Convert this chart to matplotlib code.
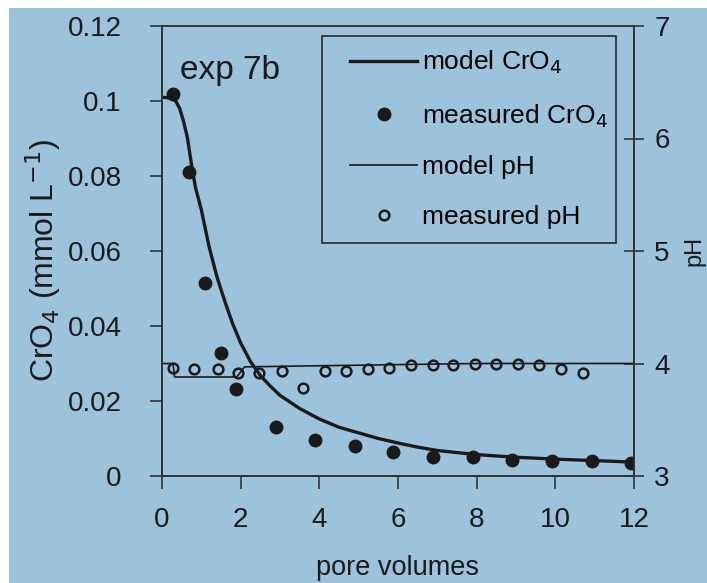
import matplotlib
matplotlib.use("Agg")
import matplotlib.pyplot as plt
from matplotlib.patches import Rectangle
from matplotlib.lines import Line2D

plt.rcParams['font.family'] = ['Liberation Sans', 'DejaVu Sans']

# model CrO4 breakthrough curve
model_pv = [0, 0.2, 0.35, 0.45, 0.55, 0.65, 0.75, 0.85, 1.0, 1.2, 1.4, 1.6, 1.8,
            2.0, 2.25, 2.5, 2.75, 3.0, 3.5, 4.0, 4.5, 5.0, 5.5, 6.0, 6.5, 7.0,
            8.0, 9.0, 10.0, 11.0, 12.0]
model_cro4 = [0.101, 0.1008, 0.1, 0.098, 0.0945, 0.090, 0.083, 0.077, 0.071, 0.061,
              0.053, 0.0465, 0.0405, 0.0355, 0.0305, 0.0268, 0.024, 0.0215, 0.018,
              0.0152, 0.013, 0.0115, 0.010, 0.0088, 0.0077, 0.0068, 0.0057, 0.0050,
              0.0045, 0.0041, 0.0037]

# measured CrO4
meas_pv = [0.28, 0.69, 1.09, 1.5, 1.88, 2.9, 3.89, 4.9, 5.87, 6.89, 7.9, 8.9, 9.92, 10.93, 11.92]
meas_cro4 = [0.102, 0.081, 0.0515, 0.0328, 0.0232, 0.0131, 0.0096, 0.0080, 0.0064,
             0.0051, 0.0050, 0.0043, 0.0040, 0.0040, 0.0035]

# model pH
model_ph_pv = [0, 0.28, 0.32, 1.9, 2.1, 4.0, 6.0, 8.0, 12.0]
model_ph = [4.0, 4.0, 3.88, 3.88, 3.97, 3.98, 3.99, 4.0, 4.0]

# measured pH
ph_pv = [0.28, 0.82, 1.42, 1.94, 2.47, 3.05, 3.58, 4.14, 4.69, 5.24, 5.77, 6.33,
         6.89, 7.4, 7.96, 8.5, 9.05, 9.59, 10.15, 10.7]
ph_vals = [3.96, 3.95, 3.95, 3.92, 3.92, 3.93, 3.78, 3.93, 3.93, 3.95, 3.96, 3.99,
           3.99, 3.99, 4.0, 4.0, 4.0, 3.99, 3.95, 3.92]

xticks = [0, 2, 4, 6, 8, 10, 12]
yticks = [0, 0.02, 0.04, 0.06, 0.08, 0.1, 0.12]
ytick_labels = ['0', '0.02', '0.04', '0.06', '0.08', '0.1', '0.12']
phticks = [3, 4, 5, 6, 7]

bg = '#9dc2dc'
ink = '#1a1a1a'

fig = plt.figure(figsize=(7.07, 5.83), dpi=100, facecolor='white')
fig.patches.append(Rectangle((9 / 707, 0), 1, 1 - 8 / 583, transform=fig.transFigure,
                             facecolor=bg, edgecolor='none', zorder=-10))

ax = fig.add_axes([162 / 707, 1 - 476 / 583, 472 / 707, 450 / 583])
ax.set_facecolor('none')
ax2 = ax.twinx()

ax.plot(model_pv, model_cro4, color=ink, lw=2.4, zorder=3)
ax.plot(meas_pv, meas_cro4, 'o', color=ink, ms=9, zorder=4)
ax2.plot(model_ph_pv, model_ph, color=ink, lw=1.2)
ax2.plot(ph_pv, ph_vals, 'o', mfc='none', mec=ink, ms=7, mew=1.8)

ax.set_xlim(0, 12)
ax.set_ylim(0, 0.12)
ax2.set_ylim(3, 7)

ax.set_xticks(xticks)
ax.set_xticklabels([str(t) for t in xticks])
ax.set_yticks(yticks)
ax.set_yticklabels(ytick_labels)
ax2.set_yticks(phticks)

for a in (ax, ax2):
    for s in a.spines.values():
        s.set_color('#333333')
        s.set_linewidth(1.3)

ax.tick_params(axis='both', direction='out', length=9, width=1.2, colors='#333333',
               labelcolor=ink, labelsize=20)
ax.tick_params(axis='y', pad=20)
ax.tick_params(axis='x', pad=13)
ax2.tick_params(axis='y', direction='inout', length=15, width=1.2, colors='#333333',
                labelcolor=ink, labelsize=20, pad=7)

ax.set_xlabel('pore volumes', fontsize=19.5, color=ink, labelpad=16)
ax.set_ylabel('CrO$_4$ (mmol L$^{-1}$)', fontsize=23, color=ink)
ax.yaxis.set_label_coords(-0.21, 0.48)
ax2.set_ylabel('pH', fontsize=17, color=ink)
ax2.yaxis.set_label_coords(1.105, 0.5)

ax.text(0.46, 0.108, 'exp 7b', fontsize=24, color=ink, va='center', ha='left')

# legend frame drawn separately (wider left margin than legend padding allows)
ax2.add_patch(Rectangle((0.339, 0.518), 0.623, 0.46, transform=ax2.transAxes,
                        facecolor='none', edgecolor='#333333', lw=1.3))

handles = [
    Line2D([], [], color=ink, lw=2.4),
    Line2D([], [], ls='none', marker='o', color=ink, ms=9),
    Line2D([], [], color=ink, lw=1.2),
    Line2D([], [], ls='none', marker='o', mfc='none', mec=ink, ms=7, mew=1.8),
]
labels = ['model CrO$_4$', 'measured CrO$_4$', 'model pH', 'measured pH']
leg = ax2.legend(handles, labels, loc='upper left', bbox_to_anchor=(0.398, 0.949),
                 borderaxespad=0, fontsize=19, frameon=False,
                 handlelength=2.55, handletextpad=0.2, labelspacing=0.97,
                 borderpad=0)

fig.savefig('out.png', dpi=100, facecolor='white')
